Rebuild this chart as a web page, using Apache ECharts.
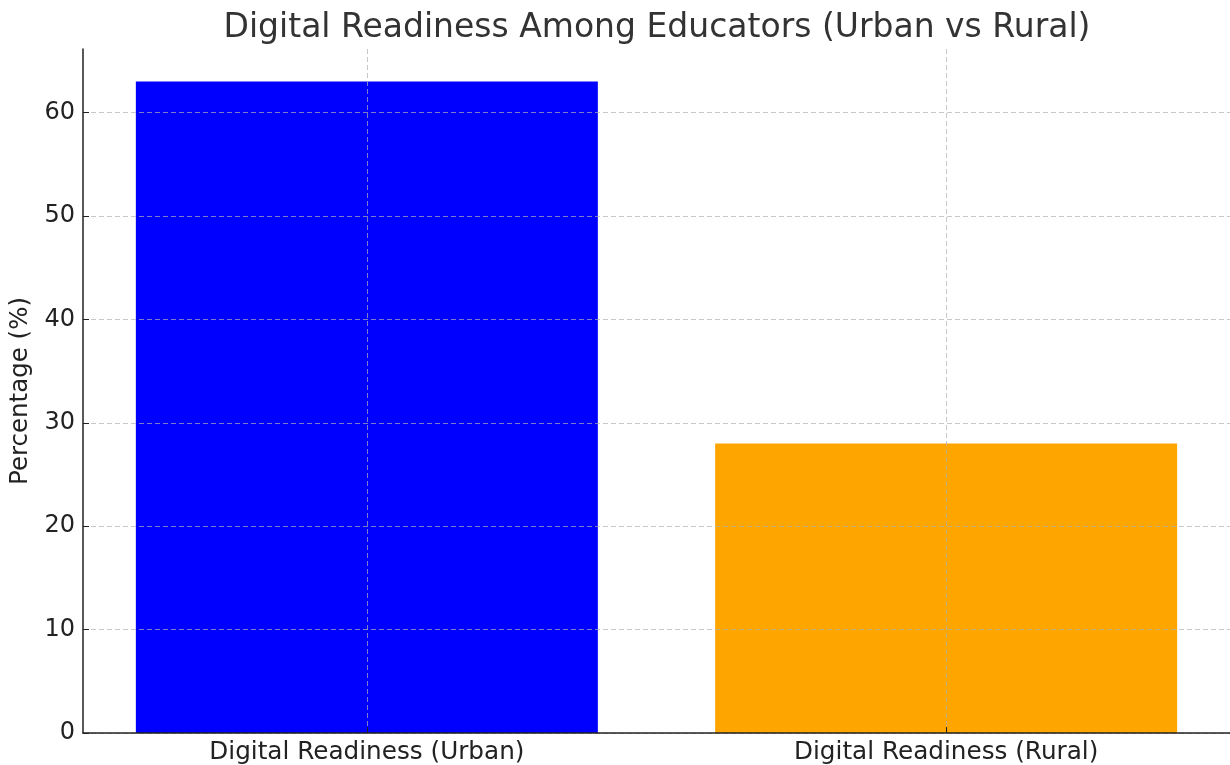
<!DOCTYPE html>
<html>
<head>
<meta charset="utf-8">
<script src="https://cdn.jsdelivr.net/npm/echarts@6/dist/echarts.min.js"></script>
<style>html,body{margin:0;padding:0;background:#fff}#c{width:1230px;height:765px}</style>
</head>
<body>
<div id="c"></div>
<script>
const categories = ['Digital Readiness (Urban)', 'Digital Readiness (Rural)'];
const values = [63, 28];
const barColors = ['#0000ff', '#ffa500'];
const yTicks = [0, 10, 20, 30, 40, 50, 60];

const chart = echarts.init(document.getElementById('c'));
const font = 'DejaVu Sans';
const catIdx = categories.map((c, i) => i);

chart.setOption({
  animation: false,
  backgroundColor: '#ffffff',
  title: {
    text: 'Digital Readiness Among Educators (Urban vs Rural)',
    left: 652,
    textAlign: 'center',
    top: 7,
    textStyle: { fontFamily: font, fontSize: 33, fontWeight: 'normal', color: '#333333' }
  },
  grid: { left: 83, top: 49, width: 1148, height: 684, containLabel: false },
  xAxis: {
    type: 'value',
    min: -0.49,
    max: 1.49,
    z: 5,
    axisLine: { show: true, onZero: false, lineStyle: { color: '#222', width: 1.5 } },
    axisTick: { show: true, inside: true, length: 6, customValues: catIdx, lineStyle: { color: '#222' } },
    axisLabel: {
      customValues: catIdx,
      formatter: v => categories[Math.round(v)] || '',
      fontFamily: font, fontSize: 24.7, color: '#222', margin: 7
    },
    splitLine: { show: true, lineStyle: { color: 'rgba(176,176,176,0.7)', type: [5, 3], width: 1 } }
  },
  yAxis: {
    type: 'value',
    min: 0,
    max: 66.15,
    interval: 10,
    z: 5,
    name: 'Percentage (%)',
    nameLocation: 'middle',
    nameGap: 48,
    nameTextStyle: { fontFamily: font, fontSize: 24.5, color: '#222' },
    axisLine: { show: true, onZero: false, lineStyle: { color: '#222', width: 1.5 } },
    axisTick: { show: true, inside: true, length: 6, customValues: yTicks, lineStyle: { color: '#222' } },
    axisLabel: { customValues: yTicks, fontFamily: font, fontSize: 24, color: '#222', margin: 8 },
    splitLine: { show: true, lineStyle: { color: 'rgba(176,176,176,0.7)', type: [5, 3], width: 1 } }
  },
  series: [{
    type: 'bar',
    z: 2,
    barWidth: 462,
    data: values.map((v, i) => ({ value: [i, v], itemStyle: { color: barColors[i] } }))
  }]
});
</script>
</body>
</html>
